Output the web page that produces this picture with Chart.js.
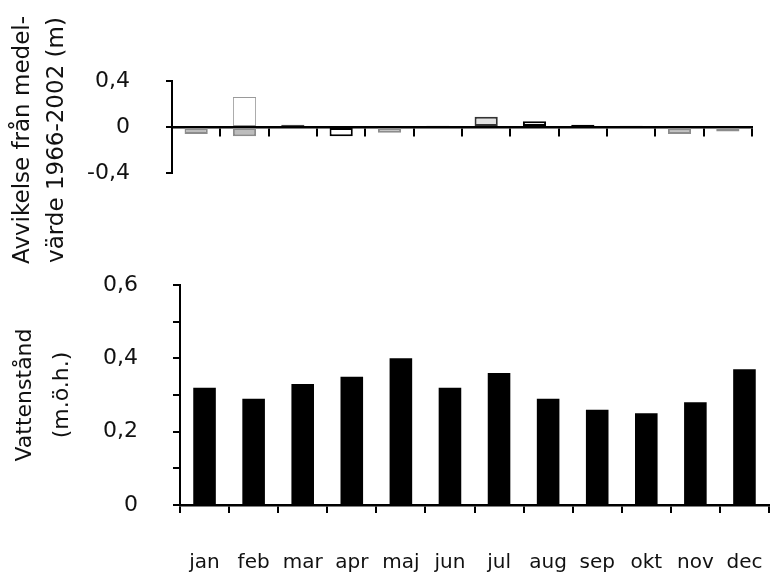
<!DOCTYPE html>
<html>
<head>
<meta charset="utf-8">
<script src="https://cdn.jsdelivr.net/npm/chart.js@4/dist/chart.umd.min.js"></script>
<style>
  html, body { margin: 0; padding: 0; background: #fff; }
  #wrap { position: relative; width: 771px; height: 576px; overflow: hidden; }
  #top { position: absolute; left: 0; top: 0; }
  #bottom { position: absolute; left: 0; top: 270px; }
</style>
</head>
<body>
<div id="wrap">
  <canvas id="top" width="771" height="270"></canvas>
  <canvas id="bottom" width="771" height="306"></canvas>
</div>
<script>
// ---- data ----
const months = ['jan', 'feb', 'mar', 'apr', 'maj', 'jun', 'jul', 'aug', 'sep', 'okt', 'nov', 'dec'];
const deviation = [-0.06, -0.08, 0.02, -0.08, -0.05, 0.01, 0.09, 0.05, 0.02, 0.01, -0.06, -0.04];
const deviationOutline = [null, 0.26, null, null, null, null, null, null, null, null, null, null];
const waterLevel = [0.32, 0.29, 0.33, 0.35, 0.40, 0.32, 0.36, 0.29, 0.26, 0.25, 0.28, 0.37];
const topTitle = ['Avvikelse från medel-', 'värde 1966-2002 (m)'];
const bottomTitle = ['Vattenstånd', '(m.ö.h.)'];

// ---- styles ----
const devFill = ['#bdbdbd', '#bdbdbd', '#555555', '#ffffff', '#bdbdbd', '#666666', '#e2e2e2', '#ffffff', '#000000', '#777777', '#bdbdbd', '#bdbdbd'];
const devBorder = ['#8c8c8c', '#8c8c8c', '#444444', '#000000', '#8c8c8c', '#555555', '#333333', '#000000', '#000000', '#666666', '#8c8c8c', '#8c8c8c'];

const FONT = 'DejaVu Sans';
const fmt = v => (Math.abs(v) < 1e-9 ? '0' : v.toFixed(1).replace('.', ','));
const noPad = s => { s.paddingLeft = 0; s.paddingRight = 0; s.paddingTop = 0; s.paddingBottom = 0; };

Chart.defaults.font.family = FONT;
Chart.defaults.color = '#111';

// shifts the top chart's y-axis title a little downward, as in the reference
const titleShift = {
  id: 'titleShift',
  afterLayout(chart, args, opts) {
    const s = chart.scales.y;
    if (s && !s._shiftPatched) {
      const orig = s.drawTitle;
      s.drawTitle = function () {
        this.ctx.save();
        this.ctx.translate(0, opts.dy || 0);
        orig.call(this);
        this.ctx.restore();
      };
      s._shiftPatched = true;
    }
  }
};

new Chart(document.getElementById('top'), {
  type: 'bar',
  data: {
    labels: months,
    datasets: [
      {
        data: deviation,
        backgroundColor: devFill,
        borderColor: devBorder,
        borderWidth: 2,
        borderSkipped: false,
        barPercentage: 0.48,
        categoryPercentage: 1,
        grouped: false
      },
      {
        data: deviationOutline,
        backgroundColor: '#ffffff',
        borderColor: '#9a9a9a',
        borderWidth: 1,
        borderSkipped: false,
        barPercentage: 0.48,
        categoryPercentage: 1,
        grouped: false
      }
    ]
  },
  plugins: [titleShift],
  options: {
    responsive: false,
    animation: false,
    events: [],
    layout: { padding: { left: 0, right: 19, top: 81, bottom: 97 } },
    plugins: { legend: { display: false }, tooltip: { enabled: false }, titleShift: { dy: 13 } },
    scales: {
      x: {
        position: { y: 0 },
        afterFit: noPad,
        ticks: { display: false },
        grid: { drawOnChartArea: false, drawTicks: true, tickLength: 8, color: '#000', lineWidth: 2 },
        border: { display: true, color: '#000', width: 2.5 }
      },
      y: {
        min: -0.4, max: 0.4,
        afterFit: s => { s.width = 172; noPad(s); },
        ticks: {
          stepSize: 0.2,
          padding: 36,
          font: { size: 22 },
          color: '#111',
          callback: v => (Math.round(v * 10) % 4 === 0 ? fmt(v) : '')
        },
        grid: { drawOnChartArea: false, drawTicks: true, tickLength: 6, color: '#000', lineWidth: 2 },
        border: { display: true, color: '#000', width: 2 },
        title: {
          display: true,
          text: topTitle,
          font: { size: 23, lineHeight: 1.48 },
          color: '#111',
          padding: { top: 6, bottom: 0 }
        }
      }
    }
  }
});

new Chart(document.getElementById('bottom'), {
  type: 'bar',
  data: {
    labels: months,
    datasets: [
      {
        data: waterLevel,
        backgroundColor: '#000',
        borderColor: '#000',
        borderWidth: 0,
        barPercentage: 0.46,
        categoryPercentage: 1
      }
    ]
  },
  options: {
    responsive: false,
    animation: false,
    events: [],
    layout: { padding: { left: 0, right: 2, top: 15, bottom: 0 } },
    plugins: { legend: { display: false }, tooltip: { enabled: false } },
    scales: {
      x: {
        afterFit: s => { s.height = 71; noPad(s); },
        ticks: { padding: 38, font: { size: 20 }, color: '#111', maxRotation: 0, autoSkip: false },
        grid: { drawOnChartArea: false, drawTicks: true, tickLength: 8, color: '#000', lineWidth: 2 },
        border: { display: true, color: '#000', width: 2.5 }
      },
      y: {
        min: 0, max: 0.6,
        afterFit: s => { s.width = 180; noPad(s); },
        ticks: {
          stepSize: 0.1,
          padding: 35,
          font: { size: 22 },
          color: '#111',
          callback: v => (Math.round(v * 10) % 2 === 0 ? fmt(v) : '')
        },
        grid: { drawOnChartArea: false, drawTicks: true, tickLength: 7, color: '#000', lineWidth: 2 },
        border: { display: true, color: '#000', width: 2 },
        title: {
          display: true,
          text: bottomTitle,
          font: { size: 22, lineHeight: 1.68 },
          color: '#111',
          padding: { top: 7, bottom: 0 }
        }
      }
    }
  }
});
</script>
</body>
</html>
